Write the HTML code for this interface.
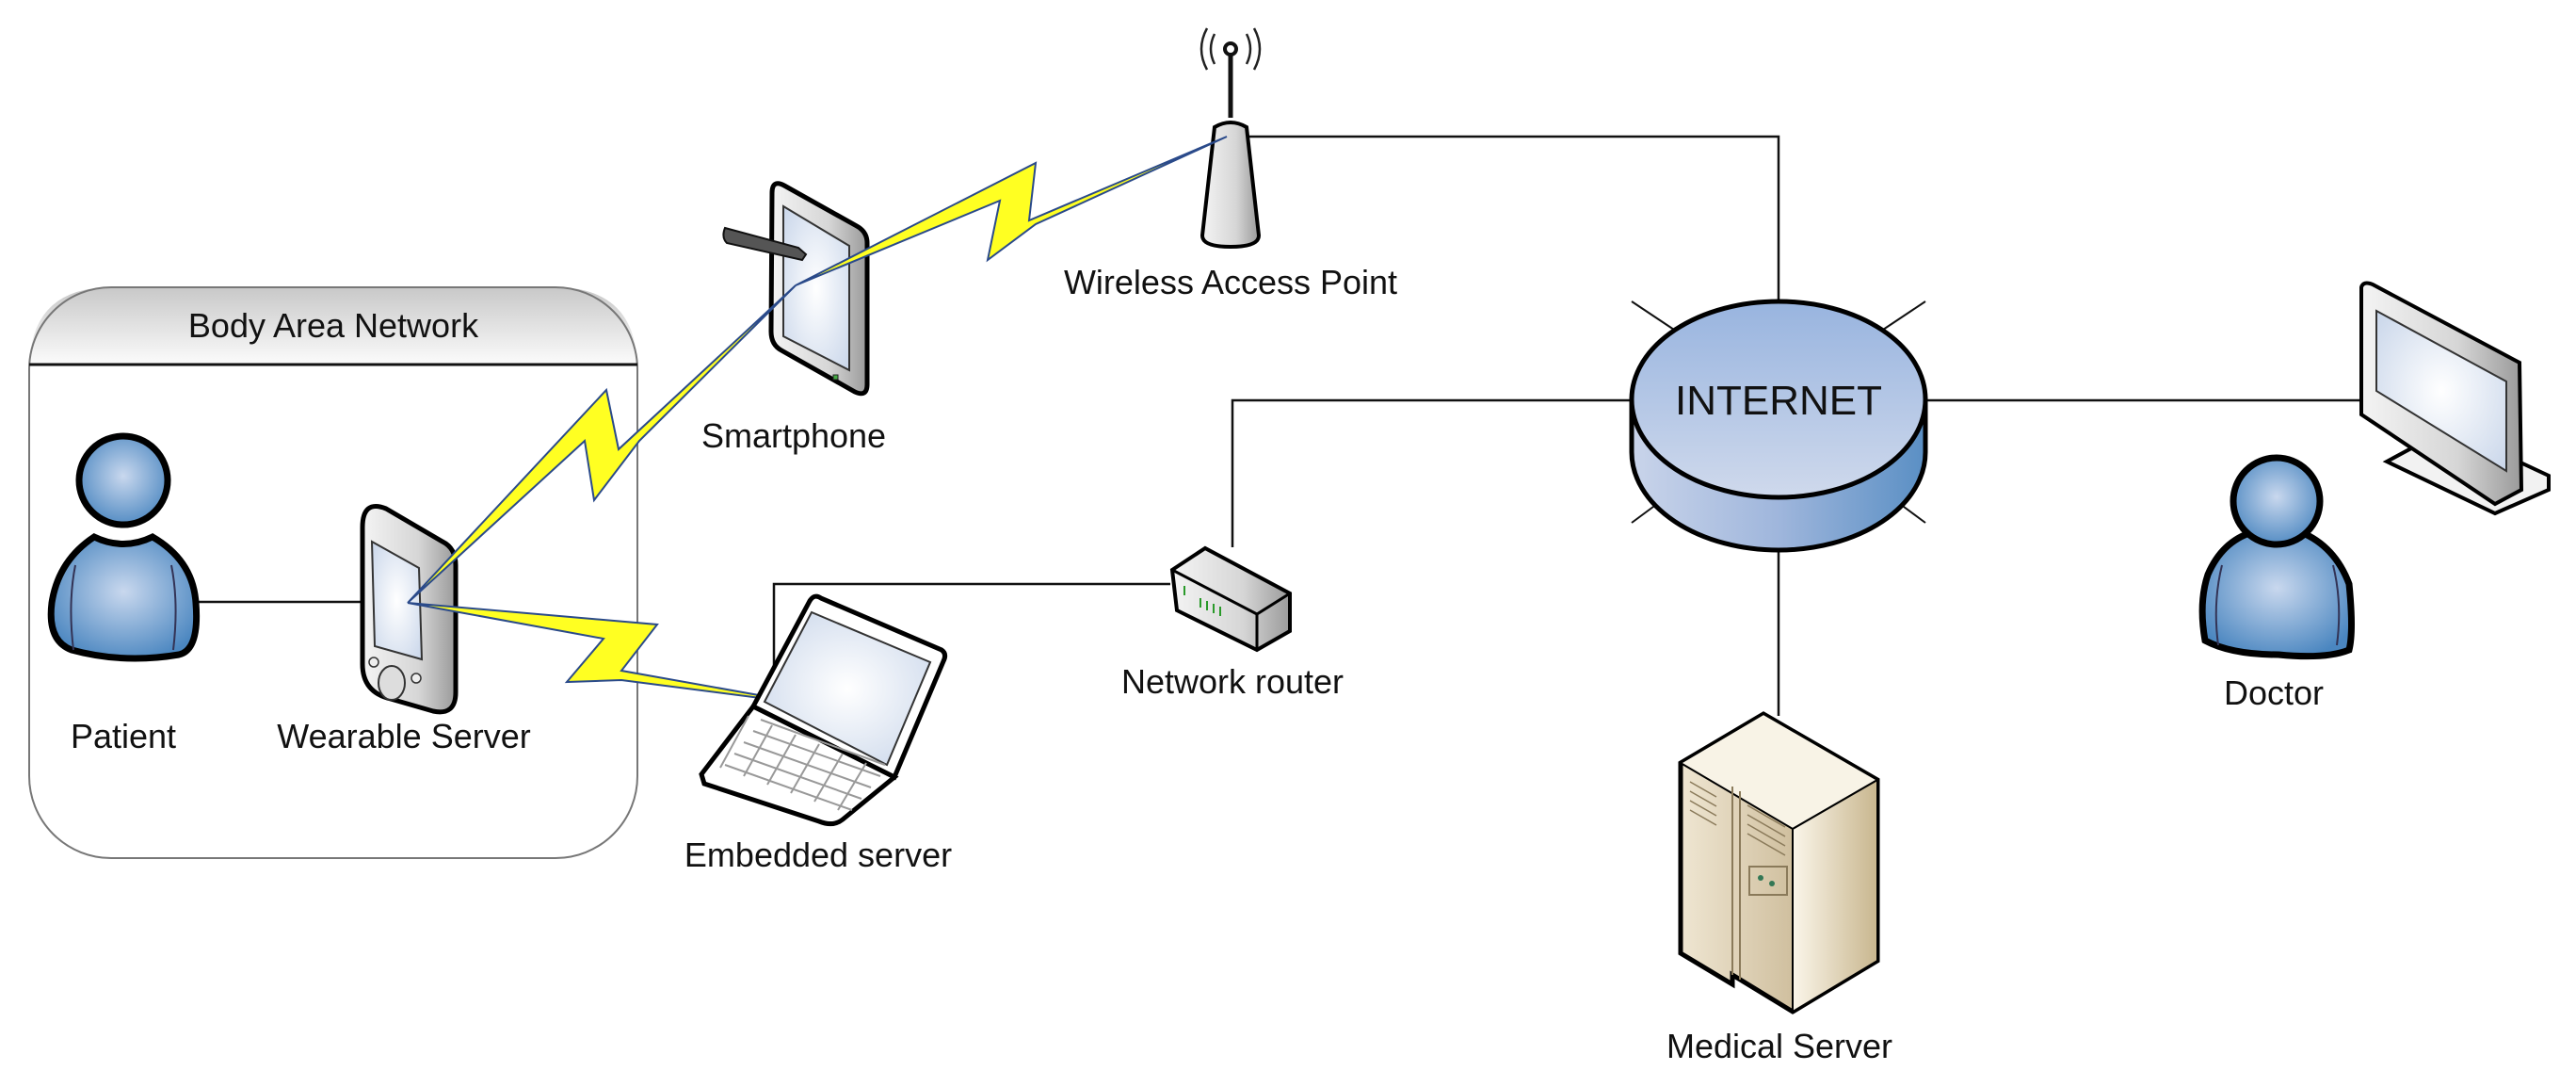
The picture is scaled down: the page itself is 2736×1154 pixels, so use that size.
<!DOCTYPE html>
<html><head><meta charset="utf-8"><style>
html,body{margin:0;padding:0;background:#fff;}
svg{display:block;}
text{font-family:"Liberation Sans",sans-serif;fill:#111;}
</style></head><body>
<svg width="2736" height="1154" viewBox="0 0 2736 1154" xmlns="http://www.w3.org/2000/svg">
<defs>
<linearGradient id="hdr" x1="0" y1="0" x2="0" y2="1"><stop offset="0" stop-color="#c8c8c8"/><stop offset="1" stop-color="#ffffff"/></linearGradient>
<radialGradient id="blue" cx="0.5" cy="0.45" r="0.6"><stop offset="0" stop-color="#c9d8ee"/><stop offset="1" stop-color="#4a86c0"/></radialGradient>
<linearGradient id="cyl" x1="0" y1="0" x2="1" y2="0"><stop offset="0" stop-color="#c9d4ea"/><stop offset="0.5" stop-color="#9fb6dc"/><stop offset="1" stop-color="#5a8fc4"/></linearGradient>
<linearGradient id="cyltop" x1="0" y1="0" x2="0" y2="1"><stop offset="0" stop-color="#98b4df"/><stop offset="1" stop-color="#cfd9ec"/></linearGradient>
<radialGradient id="scr" cx="0.5" cy="0.5" r="0.7"><stop offset="0" stop-color="#ffffff"/><stop offset="1" stop-color="#c9d6ea"/></radialGradient>
<linearGradient id="gray" x1="0" y1="0" x2="1" y2="0"><stop offset="0" stop-color="#f4f4f4"/><stop offset="0.6" stop-color="#d6d6d6"/><stop offset="1" stop-color="#9a9a9a"/></linearGradient>
<linearGradient id="beige" x1="0" y1="0" x2="1" y2="0"><stop offset="0" stop-color="#efe6d2"/><stop offset="1" stop-color="#b8a278"/></linearGradient>
<linearGradient id="beigeS" x1="0" y1="0" x2="1" y2="0"><stop offset="0" stop-color="#fbf6ea"/><stop offset="1" stop-color="#c8b68e"/></linearGradient>
</defs>

<!-- Body Area Network box -->
<path d="M31 387 L31 393 Q31 305 118 305 L590 305 Q677 305 677 393 L677 387 Z" fill="url(#hdr)"/>
<rect x="31" y="305" width="646" height="606" rx="87" ry="87" fill="none" stroke="#777" stroke-width="2"/>
<line x1="31" y1="387" x2="677" y2="387" stroke="#111" stroke-width="3"/>
<text x="354" y="358" font-size="36" text-anchor="middle">Body Area Network</text>

<!-- connectors -->
<g stroke="#111" stroke-width="2.5" fill="none">
<polyline points="1326,145 1889,145 1889,320"/>
<polyline points="1309,581 1309,425 1733,425"/>
<line x1="2045" y1="425" x2="2509" y2="425"/>
<line x1="1889" y1="583" x2="1889" y2="760"/>
<polyline points="1243,620 822,620 822,710"/>
<line x1="131" y1="639" x2="440" y2="639"/>
</g>

<!-- Patient -->
<g stroke="#000" stroke-width="7">
<path d="M76 690 Q50 680 55 640 Q62 595 100 570 Q131 585 162 570 Q205 595 208 640 Q212 690 190 695 Q131 705 76 690 Z" fill="url(#blue)"/>
<circle cx="131" cy="510" r="47" fill="url(#blue)"/>
</g>
<g stroke="#335" stroke-width="2" fill="none"><path d="M80 600 Q72 640 78 690"/><path d="M182 600 Q190 640 184 690"/></g>
<text x="131" y="794" font-size="36" text-anchor="middle">Patient</text>

<!-- Wearable -->
<g>
<path d="M385 645 L385 560 Q385 530 410 540 L470 575 Q484 582 484 600 L484 735 Q484 760 460 755 L415 742 Q385 735 385 705 Z" fill="url(#gray)" stroke="#000" stroke-width="5"/>
<path d="M395 575 L445 603 L448 700 L398 686 Z" fill="url(#scr)" stroke="#333" stroke-width="2"/>
<ellipse cx="416" cy="725" rx="14" ry="18" fill="#ddd" stroke="#333" stroke-width="2"/>
<circle cx="397" cy="703" r="5" fill="#eee" stroke="#333" stroke-width="1.5"/>
<circle cx="442" cy="720" r="5" fill="#eee" stroke="#333" stroke-width="1.5"/>
</g>
<text x="429" y="794" font-size="36" text-anchor="middle">Wearable Server</text>

<!-- Smartphone -->
<g>
<path d="M820 205 Q820 190 833 197 L910 240 Q921 246 921 258 L921 408 Q921 422 908 416 L830 372 Q819 366 819 352 Z" fill="url(#gray)" stroke="#000" stroke-width="5"/>
<path d="M832 219 L902 261 L902 393 L832 357 Z" fill="url(#scr)" stroke="#333" stroke-width="2"/>
<rect x="885" y="398" width="5" height="5" fill="#4a4" stroke="#222"/>
<path d="M770 242 Q766 252 772 258 L852 276 L856 270 L848 263 Z" fill="#555" stroke="#111" stroke-width="2"/>
</g>
<text x="843" y="475" font-size="36" text-anchor="middle">Smartphone</text>

<!-- Access point -->
<g>
<line x1="1307" y1="50" x2="1307" y2="125" stroke="#111" stroke-width="5"/>
<circle cx="1307" cy="52" r="6" fill="#fff" stroke="#111" stroke-width="4"/>
<path d="M1290 36 Q1282 52 1290 68 M1282 30 Q1270 52 1282 74 M1324 36 Q1332 52 1324 68 M1332 30 Q1344 52 1332 74" stroke="#222" stroke-width="2.5" fill="none"/>
<path d="M1290 135 Q1307 125 1324 135 L1337 250 Q1337 262 1307 262 Q1277 262 1277 250 Z" fill="url(#gray)" stroke="#000" stroke-width="4"/>
</g>
<text x="1307" y="312" font-size="36" text-anchor="middle">Wireless Access Point</text>

<!-- Lightning bolts -->
<g fill="#ffff22" stroke="#2a4a8a" stroke-width="2" stroke-linejoin="miter">
<polygon points="433,640 644,414 657,477 845,303 679,468 631,531 621,468"/>
<polygon points="845,303 1100,173 1093,234 1303,145 1100,238 1049,276 1062,213"/>
<polygon points="433,640 698,663 660,712 862,748 660,722 602,724 641,678"/>
</g>

<!-- Laptop -->
<g>
<path d="M800 750 L860 638 Q865 630 872 635 L1000 690 Q1006 694 1002 702 L950 825 Z" fill="#fff" stroke="#000" stroke-width="5"/>
<path d="M812 745 L862 650 L988 703 L942 812 Z" fill="url(#scr)" stroke="#333" stroke-width="2"/>
<path d="M745 822 L800 750 L950 825 L895 870 Q885 878 870 872 L748 832 Z" fill="#fff" stroke="#000" stroke-width="5"/>
<g stroke="#999" stroke-width="2" fill="none">
<path d="M770 812 L905 860 M780 800 L915 848 M790 788 L925 836 M800 776 L935 824 M808 764 L940 812"/>
<path d="M795 760 L765 815 M820 770 L790 824 M845 780 L815 833 M870 790 L840 842 M895 800 L865 851 M920 810 L890 860"/>
</g>
</g>
<text x="869" y="920" font-size="36" text-anchor="middle">Embedded server</text>

<!-- Router -->
<g>
<path d="M1245 605 L1280 582 L1370 630 L1370 670 L1335 690 L1250 648 Z" fill="url(#gray)" stroke="#000" stroke-width="4"/>
<path d="M1245 605 L1335 652 L1370 630" fill="none" stroke="#000" stroke-width="3"/>
<line x1="1335" y1="652" x2="1335" y2="690" stroke="#000" stroke-width="3"/>
<g stroke="#2a9a2a" stroke-width="2"><path d="M1258 622 l0 10 M1275 635 l0 10 M1282 638 l0 10 M1289 641 l0 10 M1296 644 l0 10"/></g>
</g>
<text x="1309" y="736" font-size="36" text-anchor="middle">Network router</text>

<!-- Internet -->
<g stroke="#111" stroke-width="2">
<line x1="1733" y1="320" x2="1778" y2="350"/><line x1="2045" y1="320" x2="2000" y2="350"/>
<line x1="1733" y1="555" x2="1760" y2="535"/><line x1="2045" y1="555" x2="2018" y2="535"/>
</g>
<path d="M1733 424 L1733 480 A156 104 0 0 0 2045 480 L2045 424 Z" fill="url(#cyl)" stroke="#000" stroke-width="5"/>
<ellipse cx="1889" cy="424" rx="156" ry="104" fill="url(#cyltop)" stroke="#000" stroke-width="5"/>
<text x="1889" y="440" font-size="44" text-anchor="middle">INTERNET</text>

<!-- Medical server -->
<g>
<path d="M1785 810 L1873 758 L1994 828 L1994 1020 L1904 1074 L1840 1035 L1840 1045 L1785 1012 Z" fill="url(#beige)" stroke="#000" stroke-width="5"/>
<path d="M1785 810 L1873 758 L1994 828 L1904 880 Z" fill="#f8f3e6" stroke="#000" stroke-width="2"/>
<path d="M1904 880 L1904 1074 L1994 1020 L1994 828 Z" fill="url(#beigeS)" stroke="#000" stroke-width="2"/>
<path d="M1840 835 L1840 1035 M1848 840 L1848 1040" stroke="#8a7a5a" stroke-width="2"/>
<g stroke="#8a7a5a" stroke-width="1.5"><path d="M1795 830 l28 16 M1795 840 l28 16 M1795 850 l28 16 M1795 860 l28 16 M1856 855 l40 23 M1856 865 l40 23 M1856 875 l40 23 M1856 885 l40 23"/></g>
<rect x="1858" y="920" width="40" height="30" fill="none" stroke="#8a7a5a" stroke-width="2"/>
<circle cx="1870" cy="932" r="3" fill="#375"/><circle cx="1882" cy="938" r="3" fill="#375"/>
</g>
<text x="1890" y="1123" font-size="36" text-anchor="middle">Medical Server</text>

<!-- Doctor -->
<g stroke="#000" stroke-width="7">
<path d="M2342 680 Q2335 640 2345 610 Q2360 575 2392 565 Q2418 575 2444 565 Q2480 580 2495 620 Q2500 670 2495 690 Q2470 700 2420 695 Q2370 695 2342 680 Z" fill="url(#blue)"/>
<circle cx="2418" cy="532" r="46" fill="url(#blue)"/>
</g>
<g stroke="#335" stroke-width="2" fill="none"><path d="M2360 600 Q2350 640 2356 685"/><path d="M2478 600 Q2488 640 2482 685"/></g>
<text x="2415" y="748" font-size="36" text-anchor="middle">Doctor</text>

<!-- Monitor -->
<g>
<path d="M2535 490 L2650 545 L2707 520 L2707 505 L2600 455 Z" fill="#f2f2f2" stroke="#000" stroke-width="4"/>
<path d="M2508 305 Q2510 298 2520 302 L2676 385 L2678 520 L2650 535 L2508 440 Z" fill="url(#gray)" stroke="#000" stroke-width="4"/>
<path d="M2524 330 L2662 405 L2662 500 L2524 415 Z" fill="url(#scr)" stroke="#333" stroke-width="2"/>
</g>
</svg>
</body></html>
